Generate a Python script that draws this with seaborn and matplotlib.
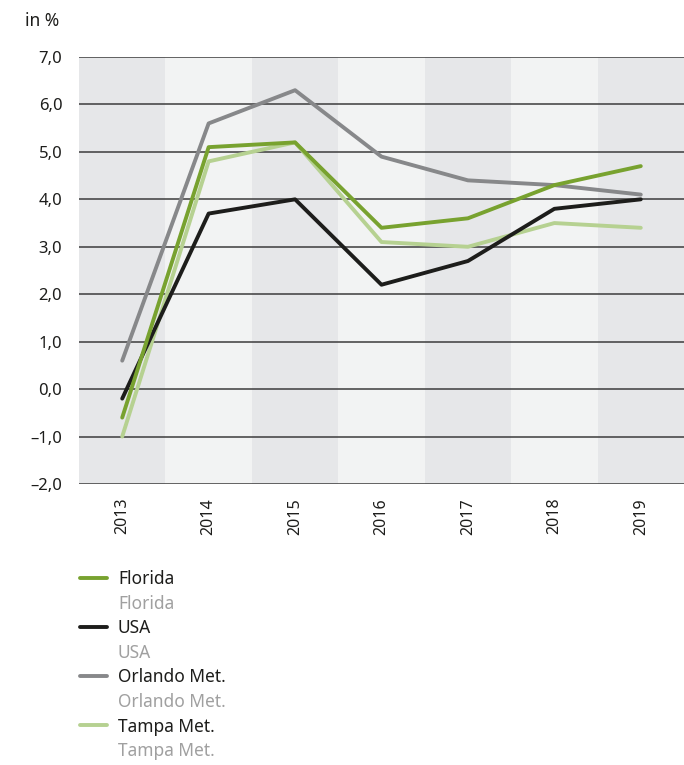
import numpy as np
import pandas as pd
import matplotlib
matplotlib.use("Agg")
import matplotlib.pyplot as plt
import seaborn as sns
from matplotlib.lines import Line2D

years = ["2013", "2014", "2015", "2016", "2017", "2018", "2019"]
florida = [-0.6, 5.1, 5.2, 3.4, 3.6, 4.3, 4.7]
usa = [-0.2, 3.7, 4.0, 2.2, 2.7, 3.8, 4.0]
orlando = [0.6, 5.6, 6.3, 4.9, 4.4, 4.3, 4.1]
tampa = [-1.0, 4.8, 5.2, 3.1, 3.0, 3.5, 3.4]
series_names = ["Florida", "USA", "Orlando Met.", "Tampa Met."]
yticks = [-2, -1, 0, 1, 2, 3, 4, 5, 6, 7]

colors = {"Florida": "#78a22f", "USA": "#1d1d1b", "Orlando Met.": "#87888a", "Tampa Met.": "#b6d191"}

df = pd.DataFrame({"Jahr": years * 4,
                   "Wert": florida + usa + orlando + tampa,
                   "Serie": np.repeat(series_names, len(years))})
df["x"] = df["Jahr"].map({y: i for i, y in enumerate(years)})

sns.set_style("white")
plt.rcParams["font.family"] = ["Noto Sans", "DejaVu Sans"]

fig = plt.figure(figsize=(6.84, 7.65), dpi=100)
ax = fig.add_axes([0.1155, 0.3673, 0.8845, 0.5582])

# alternating column bands
for i in range(len(years)):
    ax.axvspan(i - 0.5, i + 0.5, color="#e6e7e9" if i % 2 == 0 else "#f2f3f3", lw=0, zorder=0)

for y in yticks:
    ax.axhline(y, color="#3c3c3c", lw=1.1, zorder=1)

sns.lineplot(data=df, x="x", y="Wert", hue="Serie", hue_order=series_names[::-1],
             palette=colors, lw=2.8, ax=ax, legend=False, zorder=3)

ax.set_xlim(-0.5, len(years) - 0.5)
ax.set_ylim(-2, 7)
ax.set_xticks(range(len(years)))
ax.set_xticklabels(years, rotation=90, fontsize=11.5, color="#1d1d1b")
ax.set_yticks(yticks)
ax.set_yticklabels([f"{v:.1f}".replace(".", ",").replace("-", "\u2013") for v in yticks],
                   fontsize=12, color="#1d1d1b")
ax.tick_params(length=0, pad=10)
ax.tick_params(axis="y", pad=12)
ax.set_xlabel("")
ax.set_ylabel("")
for s in ax.spines.values():
    s.set_visible(False)

fig.text(0.037, 0.973, "in %", fontsize=12.5, color="#1d1d1b", va="center")

handles, labels = [], []
for name in series_names:
    handles.append(Line2D([], [], color=colors[name], lw=2.8))
    labels.append(name)
    handles.append(Line2D([], [], color="none"))
    labels.append(name)
leg = fig.legend(handles, labels, loc="upper left", bbox_to_anchor=(0.117, 0.255),
                 frameon=False, fontsize=12.5, handlelength=1.55, handletextpad=0.63,
                 labelspacing=0.38, borderaxespad=0, borderpad=0)
for i, t in enumerate(leg.get_texts()):
    t.set_color("#1d1d1b" if i % 2 == 0 else "#a0a0a0")

fig.savefig("out.png", dpi=100)
